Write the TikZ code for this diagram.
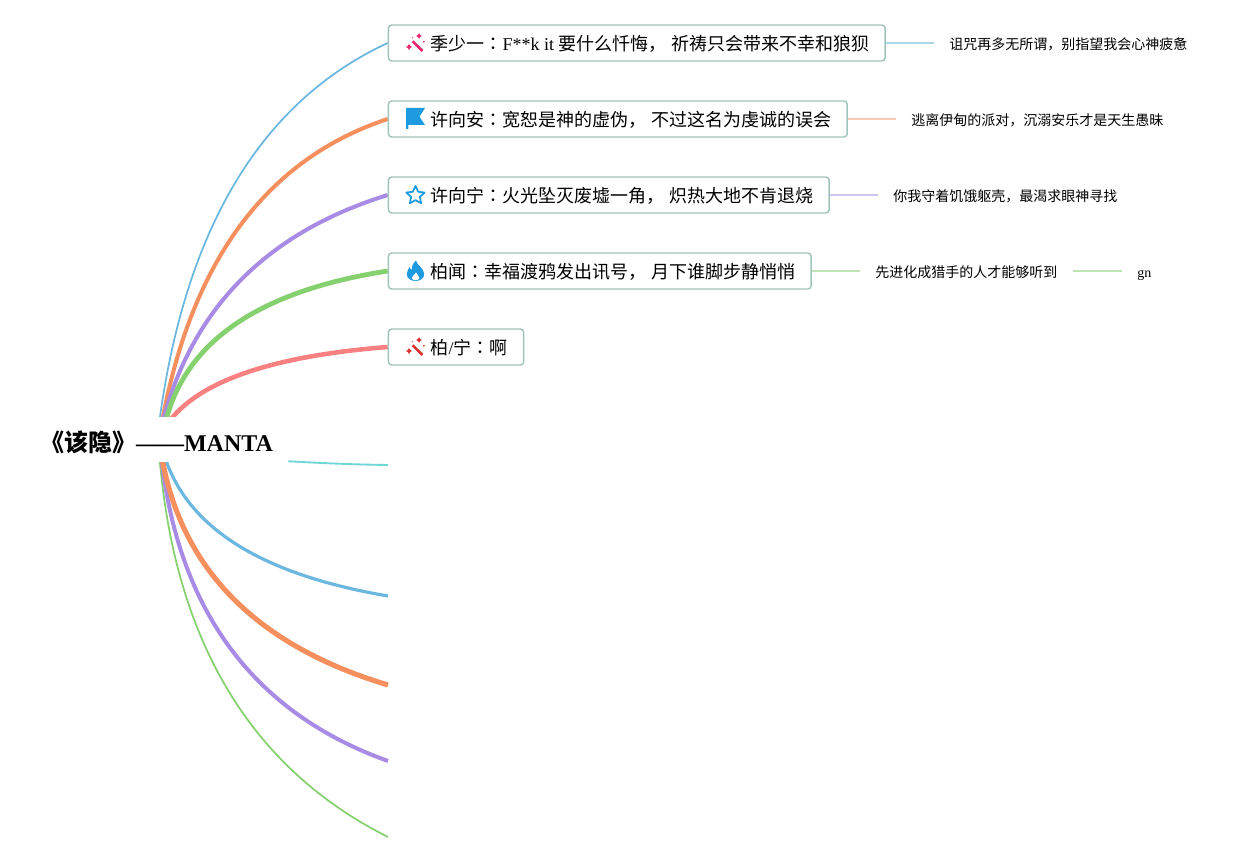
\documentclass[tikz,border=0pt]{standalone}
\usepackage{fontspec}
\usetikzlibrary{calc,backgrounds}
\setmainfont{Liberation Serif}
\newfontfamily\cjkf{Noto Sans CJK SC}
\newfontfamily\cjkt{Noto Sans CJK TC}
\newcommand{\Cj}[1]{{\cjkf #1}}
\newcommand{\Cl}{{\cjkt ：}}
\newcommand{\Mt}[1]{\hspace{19.7pt}#1\hspace{-1.9pt}}
\definecolor{boxc}{HTML}{A0C4BC}
\definecolor{cblue}{HTML}{6BB7E0}
\definecolor{corange}{HTML}{F58F5E}
\definecolor{cpurple}{HTML}{A78BE5}
\definecolor{cgreen}{HTML}{85D16F}
\definecolor{cred}{HTML}{F98080}
\definecolor{cteal}{HTML}{6FD6D6}
\definecolor{lblue}{HTML}{A9D7EC}
\definecolor{lorange}{HTML}{F9C8B4}
\definecolor{lpurple}{HTML}{CFC5F0}
\definecolor{lgreen}{HTML}{BFE5B5}
\definecolor{iblue}{HTML}{1E9BE0}
\definecolor{ipink}{HTML}{E8246E}
\definecolor{ired}{HTML}{D8302A}
\tikzset{
  x=0.75pt,y=-0.75pt,
  mainbox/.style={draw=boxc,line width=1.1pt,rounded corners=2.5pt,fill=white,anchor=west,
    minimum height=27pt,inner xsep=12pt,inner ysep=0pt,text height=12pt,text depth=1pt,font=\fontsize{13.5pt}{16pt}\selectfont},
  subnode/.style={anchor=west,inner xsep=11.25pt,inner ysep=0pt,minimum height=20pt,text height=10pt,text depth=0.6pt,font=\fontsize{10.5pt}{13pt}\selectfont},
  rootnode/.style={minimum width=197.25pt,minimum height=34.5pt,inner sep=0pt,text height=19pt,text depth=1pt,font=\bfseries\fontsize{18pt}{22pt}\selectfont},
  leaf/.style={line width=1.2pt},
}
% branch: colour, width, start, control, end
\newcommand{\Branch}[5]{%
  \coordinate (bs) at (#3);
  \draw[#1,line width=#2,line join=round] ($(bs)!-0.04!(#4)$) -- (bs)
    .. controls ($(bs)!0.667!(#4)$) and ($(#5)!0.667!(#4)$) .. (#5);}
\newcommand{\Wand}[3]{%
  \begin{scope}[shift={(#1,#2)}]
    \draw[#3,line width=1.9pt] (-3.3,-1.7) -- (6.5,8);
    \fill[#3] (3,-10) -- (4,-8) -- (6,-7) -- (4,-6) -- (3,-4) -- (2,-6) -- (0,-7) -- (2,-8) -- cycle;
    \fill[#3] (-7,1) -- (-5.8,3) -- (-3.8,4) -- (-5.8,5) -- (-7,7) -- (-8.2,5) -- (-10,4) -- (-8.2,3) -- cycle;
    \fill[#3] (7.8,-1.2) circle (1);
    \fill[#3] (-3.2,-5.2) circle (0.6);
  \end{scope}}
\begin{document}
\begin{tikzpicture}
\useasboundingbox (0,0) rectangle (1247,862);
\node[rootnode] (root) at (156.5,440) {\Cj{《该隐》}——MANTA};

\node[mainbox] (a) at (387.7,43) {\Mt{\Cj{季少一}\Cl F**k it \Cj{要什么忏悔，} \Cj{祈祷只会带来不幸和狼狈}}};
\node[mainbox] (b) at (387.7,119) {\Mt{\Cj{许向安}\Cl\Cj{宽恕是神的虚伪，} \Cj{不过这名为虔诚的误会}}};
\node[mainbox] (c) at (387.7,195) {\Mt{\Cj{许向宁}\Cl\Cj{火光坠灭废墟一角，} \Cj{炽热大地不肯退烧}}};
\node[mainbox] (d) at (387.7,271) {\Mt{\Cj{柏闻}\Cl\Cj{幸福渡鸦发出讯号，} \Cj{月下谁脚步静悄悄}}};
\node[mainbox] (e) at (387.7,347) {\Mt{\Cj{柏}/\Cj{宁}\Cl\Cj{啊}}};

\node[subnode] (a1) at (934,43) {\Cj{诅咒再多无所谓，别指望我会心神疲惫}};
\node[subnode] (b1) at (896,119) {\Cj{逃离伊甸的派对，沉溺安乐才是天生愚昧}};
\node[subnode] (c1) at (878,195) {\Cj{你我守着饥饿躯壳，最渴求眼神寻找}};
\node[subnode] (d1) at (860,271) {\Cj{先进化成猎手的人才能够听到}};
\node[subnode] (d2) at (1122,271) {gn};

\coordinate (f) at (388,465);
\coordinate (g) at (388,596);
\coordinate (h) at (388,685);
\coordinate (i) at (388,761);
\coordinate (j) at (388,837);

\begin{pgfonlayer}{background}
\fill[white] (0,0) rectangle (1247,862);
\begin{scope}
\clip (0,0) rectangle (1247,417);
\Branch{cblue}{1.3pt}{$(root.north)+(3.5,0)$}{200,130}{a.west}
\Branch{corange}{3pt}{$(root.north)+(6.5,0)$}{209,178}{b.west}
\Branch{cpurple}{3pt}{$(root.north)+(7.5,0)$}{210,250}{c.west}
\Branch{cgreen}{3.6pt}{$(root.north)+(10.5,0)$}{200,300}{d.west}
\Branch{cred}{3.4pt}{$(root.north)+(16.5,0)$}{222,360}{e.west}
\end{scope}
\begin{scope}
\clip (0,463) rectangle (1247,862);
\Branch{cblue}{2.4pt}{$(root.south)+(10.5,0)$}{205,565}{g}
\Branch{cgreen}{1.3pt}{$(root.south)+(3.5,0)$}{185,735}{j}
\Branch{cpurple}{3pt}{$(root.south)+(5.5,0)$}{190,690}{i}
\Branch{corange}{3.8pt}{$(root.south)+(6.5,0)$}{195,627}{h}
\end{scope}
\draw[cteal,line width=1.4pt] ($(root.south east)+(0,-2)$) .. controls (320,463) and (350,464.5) .. (f);
\draw[lblue,leaf] (a.east) -- (a1.west);
\draw[lorange,leaf] (b.east) -- (b1.west);
\draw[lpurple,leaf] (c.east) -- (c1.west);
\draw[lgreen,leaf] (d.east) -- (d1.west);
\draw[lgreen,leaf] (d1.east) -- (d2.west);
\end{pgfonlayer}

% icons
\Wand{416}{43}{ipink}
\Wand{416}{347}{ired}
% flag
\fill[iblue] (406,108) -- (425,108) -- (419.5,116.7) -- (425,125) -- (408.3,125) -- (408.3,129) -- (406,129) -- cycle;
% star
\begin{scope}[shift={(415.5,195.5)}]
\draw[iblue,line width=1.3pt,line join=round] (-90:9.6) -- (-54:4.6) -- (-18:9.6) -- (18:4.6) -- (54:9.6) -- (90:4.6) -- (126:9.6) -- (162:4.6) -- (198:9.6) -- (234:4.6) -- cycle;
\end{scope}
% flame
\begin{scope}[shift={(415.5,271)}]
\fill[iblue] (0.5,-10.5) .. controls (1,-6) and (8.5,-3) .. (8.7,3) .. controls (8.8,7.5) and (4.5,10) .. (0,10) .. controls (-4.5,10) and (-8.8,7.5) .. (-8.7,3) .. controls (-8.6,0) and (-7,-2) .. (-6,-4) .. controls (-5.5,-2.5) and (-4.8,-1.5) .. (-3.8,-1) .. controls (-4,-5) and (-2,-8.5) .. (0.5,-10.5) -- cycle;
\fill[white] (0.5,1.5) .. controls (1,3.5) and (3.8,4.5) .. (3.8,7) .. controls (3.8,8.5) and (1.8,9.3) .. (0,9.3) .. controls (-1.8,9.3) and (-3.6,8.5) .. (-3.6,6.8) .. controls (-3.6,5) and (-0.5,4) .. (0.5,1.5) -- cycle;
\end{scope}
\end{tikzpicture}
\end{document}
